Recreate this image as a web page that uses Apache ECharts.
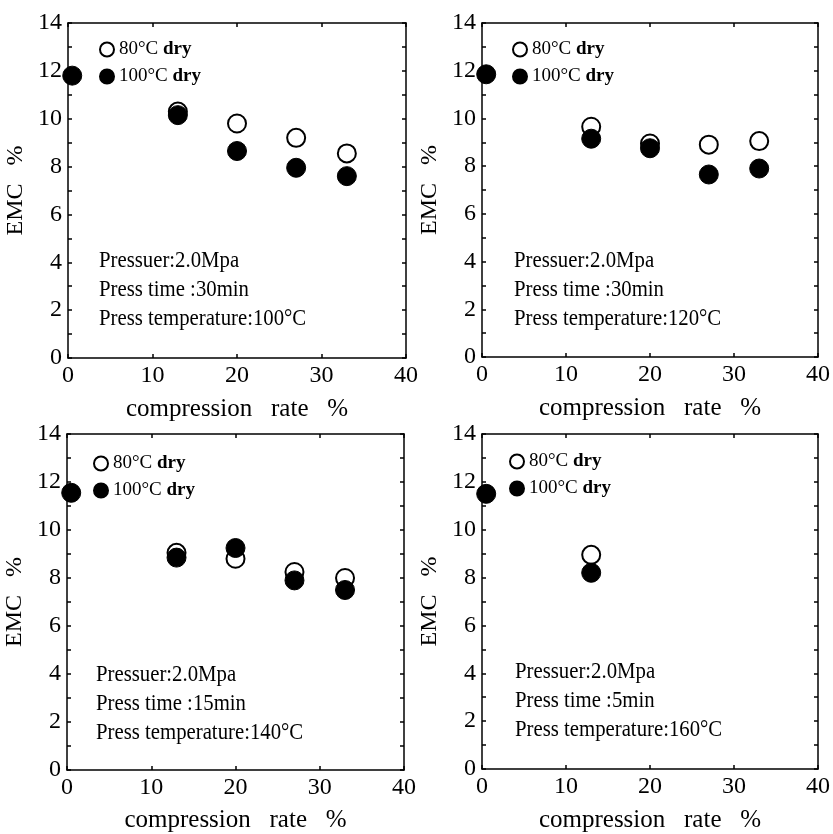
<!DOCTYPE html>
<html>
<head>
<meta charset="utf-8">
<script src="https://cdn.jsdelivr.net/npm/echarts@6/dist/echarts.min.js"></script>
<style>html,body{margin:0;padding:0;background:#fff;}#c{width:833px;height:834px;}</style>
</head>
<body>
<div id="c"></div>
<script>
// ---- data ----
const xTicks = [0, 10, 20, 30, 40];
const yTicks = [0, 2, 4, 6, 8, 10, 12, 14];
const rate80 = [13, 20, 27, 33];
const rate100 = [0.5, 13, 20, 27, 33];
const emc80_p1 = [10.3, 9.8, 9.2, 8.55];
const emc100_p1 = [11.8, 10.15, 8.65, 7.95, 7.6];
const emc80_p2 = [9.65, 8.95, 8.9, 9.05];
const emc100_p2 = [11.85, 9.15, 8.75, 7.65, 7.9];
const emc80_p3 = [9.05, 8.8, 8.25, 8.0];
const emc100_p3 = [11.55, 8.85, 9.25, 7.9, 7.5];
const rate80_p4 = [13];
const rate100_p4 = [0.5, 13];
const emc80_p4 = [8.95];
const emc100_p4 = [11.5, 8.2];
const seriesNames = ['80°C dry', '100°C dry'];
const notes = [
  ['Pressuer:2.0Mpa', 'Press time :30min', 'Press temperature:100°C'],
  ['Pressuer:2.0Mpa', 'Press time :30min', 'Press temperature:120°C'],
  ['Pressuer:2.0Mpa', 'Press time :15min', 'Press temperature:140°C'],
  ['Pressuer:2.0Mpa', 'Press time :5min', 'Press temperature:160°C']
];

const FONT = '"Liberation Serif","Times New Roman",serif';
const zip = (xs, ys) => xs.map((x, i) => [x, ys[i]]);
const panels = [
  {grid:{left:68, top:23, width:338, height:335}, d80: zip(rate80, emc80_p1), d100: zip(rate100, emc100_p1), leg:[99, 40], note:[99, 246], nameGapX:39},
  {grid:{left:482, top:23, width:337, height:334}, d80: zip(rate80, emc80_p2), d100: zip(rate100, emc100_p2), leg:[512, 40], note:[514, 246], nameGapX:39},
  {grid:{left:67, top:434, width:337, height:337}, d80: zip(rate80, emc80_p3), d100: zip(rate100, emc100_p3), leg:[93, 454], note:[96, 660], nameGapX:38},
  {grid:{left:482, top:434, width:337, height:335}, d80: zip(rate80_p4, emc80_p4), d100: zip(rate100_p4, emc100_p4), leg:[509, 452], note:[515, 657], nameGapX:39}
];

const lineStyle = {color:'#000', width:1.5};
const grids = [], xAxes = [], yAxes = [], series = [], legends = [], graphics = [];
panels.forEach((p, i) => {
  grids.push(p.grid);
  xAxes.push({
    type:'value', gridIndex:i, min:xTicks[0], max:xTicks[xTicks.length-1], interval:10, position:'bottom',
    axisLine:{show:true, onZero:false, lineStyle}, axisTick:{show:true, inside:true, length:4, lineStyle},
    splitLine:{show:false},
    axisLabel:{show:true, color:'#000', fontSize:24, fontFamily:FONT, margin:6},
    name:'compression   rate   %', nameLocation:'middle', nameGap:p.nameGapX,
    nameTextStyle:{color:'#000', fontSize:25, fontFamily:FONT}
  });
  xAxes.push({
    type:'value', gridIndex:i, min:0, max:40, interval:10, position:'top',
    axisLine:{show:true, onZero:false, lineStyle}, axisTick:{show:true, inside:true, length:4, lineStyle},
    splitLine:{show:false}, axisLabel:{show:false}
  });
  yAxes.push({
    type:'value', gridIndex:i, min:yTicks[0], max:yTicks[yTicks.length-1], interval:2, position:'left',
    axisLine:{show:true, onZero:false, lineStyle}, axisTick:{show:true, inside:true, length:4, lineStyle},
    minorTick:{show:true, splitNumber:2, length:4, lineStyle},
    splitLine:{show:false},
    axisLabel:{show:true, color:'#000', fontSize:24, fontFamily:FONT, margin:6},
    name:'EMC   %', nameLocation:'middle', nameGap:40, nameRotate:90,
    nameTextStyle:{color:'#000', fontSize:24, fontFamily:FONT}
  });
  yAxes.push({
    type:'value', gridIndex:i, min:0, max:14, interval:2, position:'right',
    axisLine:{show:true, onZero:false, lineStyle}, axisTick:{show:true, inside:true, length:4, lineStyle},
    minorTick:{show:true, splitNumber:2, length:4, lineStyle},
    splitLine:{show:false}, axisLabel:{show:false}
  });
  series.push({
    name:seriesNames[0], type:'scatter', xAxisIndex:2*i, yAxisIndex:2*i, data:p.d80,
    symbol:'circle', symbolSize:18, z:2,
    itemStyle:{color:'#fff', borderColor:'#000', borderWidth:2, opacity:1}
  });
  series.push({
    name:seriesNames[1], type:'scatter', xAxisIndex:2*i, yAxisIndex:2*i, data:p.d100,
    symbol:'circle', symbolSize:19, z:3,
    itemStyle:{color:'#000', borderColor:'#000', borderWidth:1, opacity:1}
  });
  legends.push({
    data:seriesNames, orient:'vertical', left:p.leg[0], top:p.leg[1], itemGap:8,
    itemWidth:14, itemHeight:14, padding:0, selectedMode:false,
    formatter: n => n.replace(' dry', ' {b|dry}'),
    textStyle:{color:'#000', fontSize:19, fontFamily:FONT,
      rich:{b:{fontSize:19, fontWeight:'bold', fontFamily:FONT, color:'#000'}}}
  });
  graphics.push({
    type:'text', x:p.note[0], y:p.note[1], scaleX:0.865,
    style:{text:notes[i].join('\n'), font:'24px ' + FONT, fill:'#000', lineHeight:29, verticalAlign:'top', align:'left'}
  });
});

const chart = echarts.init(document.getElementById('c'), null, {renderer:'canvas'});
chart.setOption({
  backgroundColor:'#fff',
  animation:false,
  grid:grids, xAxis:xAxes, yAxis:yAxes, series:series, legend:legends, graphic:graphics
});
</script>
</body>
</html>
